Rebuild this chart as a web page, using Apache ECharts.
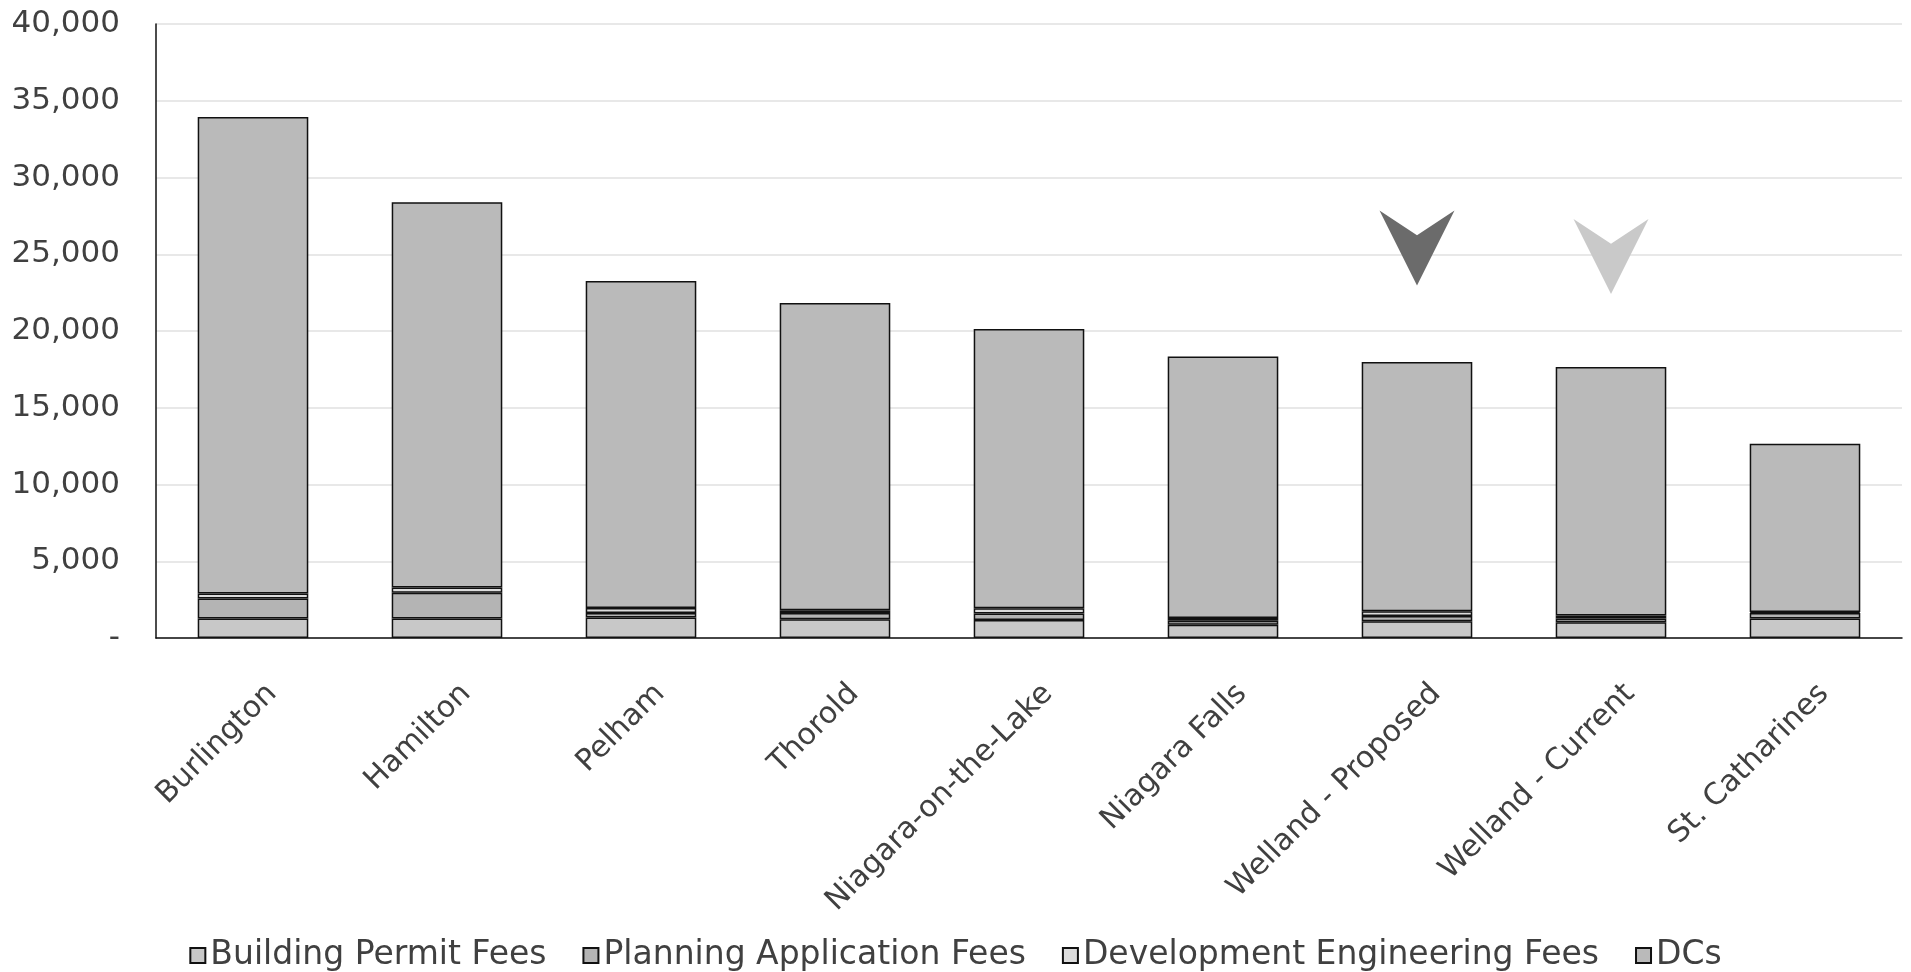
<!DOCTYPE html>
<html>
<head>
<meta charset="utf-8">
<title>Fees comparison</title>
<script src="https://cdn.jsdelivr.net/npm/echarts@6/dist/echarts.min.js"></script>
<style>
  html, body { margin: 0; padding: 0; background: #fff; }
  #main { width: 1911px; height: 972px; }
</style>
</head>
<body>
<div id="main"></div>
<script>
// 类目
const cities = ['Burlington', 'Hamilton', 'Pelham', 'Thorold', 'Niagara-on-the-Lake',
  'Niagara Falls', 'Welland - Proposed', 'Welland - Current', 'St. Catharines']
// 各项费用（从下往上堆叠）
const buildingPermit = [1265, 1265, 1330, 1220, 1180, 870, 1090, 1025, 1265]
const planningApp = [1306, 1676, 305, 413, 420, 250, 350, 250, 370]
const devEngineering = [326, 350, 326, 174, 330, 185, 300, 185, 65]
const dcs = [31050, 25090, 21300, 20010, 18200, 17040, 16240, 16200, 10960]
// y轴刻度
const yTicks = [0, 5000, 10000, 15000, 20000, 25000, 30000, 35000, 40000]
// 箭头标注
const arrowCity = ['Welland - Proposed', 'Welland - Current']
const arrowValue = [25400, 24850]
const arrowColor = ['#6b6b6b', '#c9c9c9']

const font = 'DejaVu Sans'
const textColor = '#404040'

const dom = document.querySelector('#main')
const myChart = echarts.init(dom)

function barSeries(name, data, color) {
  return {
    name: name,
    type: 'bar',
    stack: 'total',
    barWidth: '57%',
    data: data,
    itemStyle: {
      color: color,
      borderColor: '#111',
      borderWidth: 1.5
    }
  }
}

const series = [
  barSeries('Building Permit Fees', buildingPermit, '#c8c8c8'),
  barSeries('Planning Application Fees', planningApp, '#b4b4b4'),
  barSeries('Development Engineering Fees', devEngineering, '#dcdcdc'),
  barSeries('DCs', dcs, '#bababa')
]

// 箭头放在最上面一层
series[3].markPoint = {
  silent: true,
  symbol: 'path://M0,0 L50,33 L100,0 L50,100 Z',
  symbolSize: [75, 75],
  label: { show: false },
  data: arrowCity.map((c, i) => {
    return {
      coord: [c, arrowValue[i]],
      itemStyle: { color: arrowColor[i], borderWidth: 0 }
    }
  })
}

const option = {
  backgroundColor: '#fff',
  animation: false,
  textStyle: { fontFamily: font },
  grid: {
    left: 156,
    right: 9,
    top: 24,
    bottom: 334
  },
  legend: {
    bottom: -5,
    left: 'center',
    icon: 'rect',
    itemWidth: 15,
    itemHeight: 15,
    itemGap: 36,
    textStyle: {
      fontFamily: font,
      fontSize: 33,
      color: textColor
    },
    data: series.map(s => s.name)
  },
  xAxis: {
    type: 'category',
    data: cities,
    axisLine: {
      lineStyle: { color: '#111', width: 1.5 }
    },
    axisTick: { show: false },
    axisLabel: {
      interval: 0,
      rotate: 45,
      margin: 32,
      verticalAlign: 'top',
      padding: [12, 0, 0, 0],
      fontFamily: font,
      fontSize: 30,
      color: textColor
    }
  },
  yAxis: {
    type: 'value',
    min: yTicks[0],
    max: yTicks[yTicks.length - 1],
    interval: 5000,
    axisLine: {
      show: true,
      lineStyle: { color: '#111', width: 1.5 }
    },
    axisTick: { show: false },
    splitLine: {
      lineStyle: { color: '#e0e0e0', width: 1.5 }
    },
    axisLabel: {
      margin: 36,
      fontFamily: font,
      fontSize: 31,
      color: textColor,
      formatter: v => v === 0 ? '-' : v.toLocaleString('en-US')
    }
  },
  series: series
}

myChart.setOption(option)
</script>
</body>
</html>
